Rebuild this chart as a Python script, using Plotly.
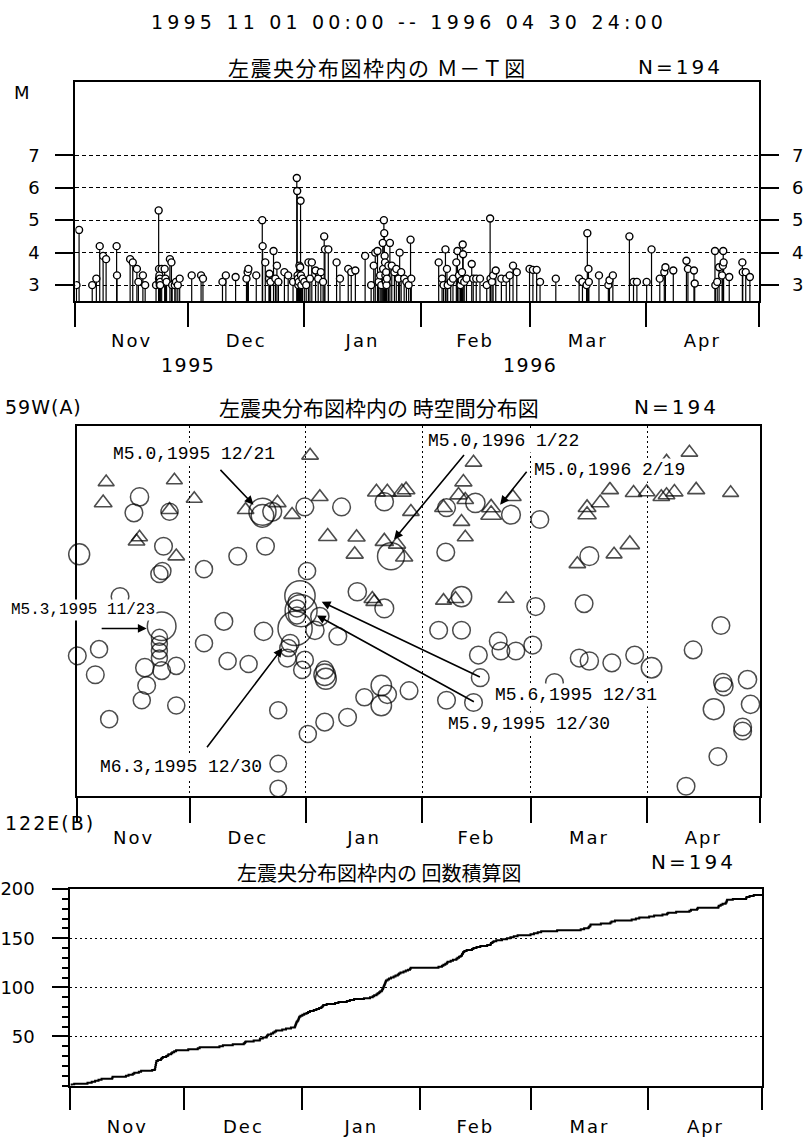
import plotly.graph_objects as go

W, H = 810, 1137


def fx(x):
    return x / W


def fy(y):
    return 1 - y / H


def ls(text, px):
    return f'<span style="letter-spacing:{px}px">{text}</span>'


FONT = "DejaVu Sans"
CJK = "Noto Sans CJK JP"
MONO = "Liberation Mono"

# ---------------- data ----------------
# time axis: days since 1995-11-01 00:00
month_start = [0, 30, 61, 92, 121, 152, 182]
month_mid = [15, 45.5, 76.5, 106.5, 136.5, 167]
month_names = ["Nov", "Dec", "Jan", "Feb", "Mar", "Apr"]
mag_ticks = [3, 4, 5, 6, 7]
count_ticks = [50, 100, 150, 200]

# events (time in days, magnitude)
ev_day = [
    # Nov 1995
    0.3, 1.0, 4.5, 5.6, 6.5, 7.4, 8.2, 11.0, 11.1, 14.6, 15.3, 16.4, 16.8, 18.0,
    18.6, 21.5, 22.2, 22.3, 22.3, 22.4, 22.4, 22.5, 22.5, 22.6, 22.6, 23.0, 23.8,
    24.0, 24.3, 25.2, 25.6, 25.8, 26.5, 26.8, 27.3, 27.8,
    # Dec 1995
    31.0, 33.5, 34.0, 39.2, 40.1, 42.7, 45.6, 45.9, 46.1, 48.2, 49.8, 49.9, 50.6,
    51.6, 51.7, 52.0, 52.8, 53.3, 53.7, 54.1, 55.7, 56.7, 58.0, 59.0, 59.1, 59.2,
    59.3, 59.4, 59.5, 59.7, 59.9, 60.0, 60.1, 60.2,
    # Jan 1996
    60.5, 61.0, 61.5, 62.1, 62.5, 63.0, 64.0, 64.7, 65.4, 66.0, 66.3, 66.5, 67.4,
    69.6, 70.5, 72.7, 73.5, 74.6, 77.2, 78.8, 79.5, 79.9, 80.5, 80.8, 81.2, 81.5,
    81.9, 82.0, 82.2, 82.3, 82.4, 82.5, 82.6, 82.7, 82.8, 82.9, 83.0, 83.4, 83.8,
    84.3, 85.0, 85.5, 86.1, 86.4, 86.8, 87.6, 88.2, 88.8, 89.3, 89.5,
    # Feb 1996
    96.8, 97.7, 98.1, 98.6, 99.0, 99.2, 100.0, 100.6, 101.5, 101.8, 102.2, 102.6,
    102.9, 103.0, 103.2, 103.3, 103.6, 104.2, 105.6, 106.0, 106.8, 107.8, 109.6,
    110.5, 110.6, 111.0, 111.3, 112.0, 113.5, 114.8, 115.7, 116.6, 117.6,
    # Mar 1996
    121.0, 121.9, 122.9, 123.8, 128.0, 134.2, 135.1, 136.2, 136.4, 136.7, 136.8,
    139.5, 142.0, 142.3, 143.2, 147.6, 148.7, 149.6,
    # Apr 1996
    152.2, 153.5, 155.7, 156.9, 157.2, 159.3, 162.8, 163.2, 164.8, 165.0, 170.4,
    170.5, 171.0, 171.5, 172.3, 172.5, 172.6, 172.7, 174.2, 177.7, 177.8, 178.6,
    179.7,
]
ev_mag = [
    # Nov 1995
    3.0, 4.7, 3.0, 3.2, 4.2, 3.9, 3.8, 4.2, 3.3, 3.8, 3.7, 3.5, 3.1, 3.3,
    3.0, 3.0, 5.3, 3.5, 3.2, 3.1, 3.3, 3.0, 3.2, 3.1, 3.0, 3.5, 3.5,
    3.2, 3.1, 3.8, 3.7, 3.0, 3.0, 3.1, 3.0, 3.2,
    # Dec 1995
    3.3, 3.3, 3.2, 3.1, 3.3, 3.25, 3.2, 3.4, 3.5, 3.3, 5.0, 4.2, 3.7,
    3.2, 3.35, 3.1, 4.05, 3.2, 3.6, 3.1, 3.4, 3.3, 3.1, 6.3, 5.9, 3.3,
    3.2, 3.0, 3.1, 3.6, 3.55, 5.6, 3.3, 3.0,
    # Jan 1996
    3.2, 3.1, 3.0, 3.7, 3.2, 3.7, 3.45, 3.2, 3.4, 3.1, 4.5, 4.1, 4.1,
    3.7, 3.2, 3.5, 3.4, 3.45, 3.9, 3.0, 3.6, 4.0, 4.05, 3.1, 3.3, 3.0,
    4.3, 3.5, 5.0, 4.6, 3.9, 3.7, 3.3, 3.1, 3.4, 3.0, 3.2, 3.6, 4.3,
    3.6, 3.4, 3.5, 3.2, 4.0, 3.4, 3.2, 3.1, 3.0, 4.4, 3.2,
    # Feb 1996
    3.7, 3.2, 3.0, 4.1, 3.5, 3.0, 3.1, 3.2, 3.7, 4.05, 3.3, 3.0,
    3.15, 3.4, 4.25, 3.95, 3.1, 3.2, 3.65, 3.2, 3.2, 3.2, 3.0,
    5.05, 3.2, 3.1, 3.3, 3.45, 3.2, 3.2, 3.3, 3.6, 3.4,
    # Mar 1996
    3.5, 3.47, 3.47, 3.1, 3.2, 3.2, 3.1, 3.0, 4.6, 3.5, 3.1,
    3.3, 3.0, 3.15, 3.3, 4.5, 3.1, 3.1,
    # Apr 1996
    3.1, 4.1, 3.2, 3.4, 3.55, 3.45, 3.75, 3.5, 3.45, 3.05, 4.05,
    3.0, 3.1, 3.55, 3.3, 3.6, 4.05, 3.7, 3.25, 3.7, 3.4, 3.4,
    3.25,
]

# space-time plot: time (days), distance along A-B section (% of length), magnitude
st_c_day = [
    16.6, 15.1, 24.6, 23.0, 0.5, 21.9, 22.7, 33.8, 42.8, 50.2, 49.4, 49.4, 52.0,
    60.7, 70.5, 61.3, 81.9, 83.7, 74.7, 81.9, 11.4, 22.5, 21.9, 21.9, 21.9, 21.9,
    39.1, 33.8, 49.7, 69.5, 59.4, 59.7, 58.1, 58.6, 58.6, 58.6, 64.7, 63.4, 56.8,
    56.0, 60.7, 45.7, 66.0, 56.3, 60.0, 66.0, 66.3, 61.5, 66.0, 72.1, 53.6, 53.6,
    53.6, 96.4, 5.8, 0.0, 4.8, 18.0, 22.5, 26.4, 18.5, 17.2, 26.4, 8.5, 40.1,
    76.6, 81.1, 82.7, 81.1, 88.5, 102.5, 107.0, 112.3, 113.0, 117.0, 121.5,
    107.5, 105.7, 98.5, 133.9, 136.6, 142.6, 148.7, 153.2, 127.3, 164.3, 171.7,
    172.2, 172.5, 178.8, 169.8, 179.6, 177.5, 177.5, 170.9, 162.4, 98.5, 106.2,
    115.7, 123.4, 98.3, 136.6, 102.5, 122.3, 135.2,
]
st_c_dist = [
    19.2, 23.5, 23.2, 32.5, 34.7, 40.0, 39.2, 38.7, 35.2, 32.5, 23.2, 24.3, 23.2,
    21.9, 21.9, 39.2, 20.5, 35.2, 44.8, 49.3, 46.1, 54.1, 57.1, 58.9, 60.8, 62.7,
    52.8, 58.7, 55.5, 56.8, 45.9, 49.9, 54.7, 47.5, 49.3, 51.2, 51.5, 55.2, 58.7,
    62.7, 63.2, 64.3, 65.9, 60.0, 65.9, 67.2, 68.3, 83.2, 80.0, 78.7, 76.8, 91.2,
    97.9, 55.2, 60.3, 62.1, 67.2, 65.3, 66.1, 64.8, 70.1, 74.1, 75.5, 79.2, 63.5,
    73.3, 70.1, 72.5, 75.5, 71.5, 55.2, 61.9, 58.1, 60.8, 60.8, 59.2,
    68.0, 74.7, 74.1, 62.7, 63.5, 64.0, 61.9, 65.3, 69.3, 60.5, 53.9,
    69.3, 70.4, 68.5, 76.5, 75.2, 81.3, 82.4, 89.3, 97.3, 22.1, 20.8,
    24.0, 25.3, 34.1, 35.2, 46.1, 48.8, 48.0,
]
st_c_mag = [
    3.4, 3.3, 3.2, 3.3, 3.9, 3.2, 3.2, 3.2, 3.3, 3.3, 5.0, 4.2, 3.5,
    3.3, 3.3, 3.2, 3.4, 5.0, 3.4, 3.5, 3.3, 5.3, 3.0, 3.0, 3.0, 3.0,
    3.3, 3.2, 3.4, 3.3, 5.6, 5.9, 6.3, 3.3, 3.2, 3.2, 3.4, 3.4, 3.3,
    3.3, 3.2, 3.2, 3.3, 3.2, 3.2, 4.0, 3.9, 3.2, 3.3, 3.3, 3.2, 3.1,
    3.1, 3.3, 3.2, 3.3, 3.3, 3.4, 3.3, 3.2, 3.3, 3.2, 3.2, 3.2, 3.2,
    3.2, 3.8, 3.4, 3.8, 3.3, 3.3, 3.3, 3.3, 3.3, 3.3, 3.3,
    3.3, 3.3, 3.3, 3.3, 3.4, 3.3, 3.3, 3.8, 3.3, 3.3, 3.3,
    3.4, 3.4, 3.4, 3.9, 3.4, 3.3, 3.3, 3.3, 3.3, 3.3, 3.6,
    3.5, 3.3, 3.3, 3.5, 3.8, 3.3, 3.3,
]
st_t_day = [
    62.1, 7.7, 25.9, 6.9, 31.2, 24.6, 15.8, 16.6, 26.4, 44.9, 53.4, 57.3, 64.7,
    66.8, 74.5, 74.0, 79.8, 82.7, 86.6, 87.7, 89.0, 81.9, 85.3, 87.2, 78.7, 79.2,
    105.7, 103.0, 101.7, 103.5, 97.7, 102.5, 103.5, 110.4, 110.4, 116.2, 136.0,
    136.0, 139.5, 142.1, 148.4, 151.9, 155.8, 157.2, 159.3, 165.1, 174.3, 163.3,
    157.2, 133.4, 143.2, 147.4, 97.7, 100.9, 114.4,
]
st_t_dist = [
    8.0, 15.2, 14.7, 20.8, 19.7, 22.7, 31.2, 30.1, 35.2, 22.7, 20.8, 24.0, 19.2,
    29.9, 30.1, 34.7, 17.9, 17.9, 17.9, 17.3, 23.2, 31.2, 32.0, 35.5, 46.7, 47.5,
    9.9, 15.2, 18.7, 20.0, 22.1, 25.9, 30.1, 22.1, 24.0, 19.2, 22.1,
    24.0, 20.8, 17.3, 18.1, 17.9, 19.2, 18.7, 17.9, 17.3, 18.1, 7.2,
    9.6, 37.3, 34.7, 32.0, 47.2, 46.7, 46.7,
]
st_t_mag = [
    3.2, 3.1, 3.1, 3.4, 3.1, 3.2, 3.2, 3.1, 3.2, 3.2, 3.3, 3.2, 3.2,
    3.5, 3.3, 3.3, 3.4, 3.4, 3.5, 3.4, 3.2, 3.5, 3.3, 3.3, 3.2, 3.2,
    3.2, 3.3, 3.3, 3.2, 3.4, 3.2, 3.1, 3.6, 3.9, 3.2, 3.4,
    3.5, 3.4, 3.3, 3.2, 3.2, 3.2, 3.2, 3.3, 3.3, 3.1, 3.2,
    3.1, 3.2, 3.1, 3.7, 3.1, 3.2, 3.1,
]

# labelled events: text, arrow head (day, dist), arrow tail (day, dist)
lab_text = ["M5.0,1995 12/21", "M5.0,1996 1/22", "M5.0,1996 2/19", "M5.3,1995 11/23",
            "M6.3,1995 12/30", "M5.6,1995 12/31", "M5.9,1995 12/30"]
lab_head = [(47.0, 21.3), (84.5, 30.7), (112.8, 21.3), (18.5, 54.7),
            (54.7, 60.0), (65.2, 47.5), (63.9, 51.2)]
lab_tail = [(37.8, 11.5), (103.5, 7.5), (120.2, 12.0), (6.1, 54.7),
            (34.3, 87.2), (107.8, 68.0), (106.2, 74.7)]
# label anchor: (day, dist, xanchor); None -> placed at the left page edge
lab_pos = [(31.2, 7.5, "center"), (113.6, 4.0, "center"), (142.1, 12.0, "center"),
           None, (27.7, 92.0, "center"), (110.9, 72.8, "left"),
           (98.3, 80.5, "left")]

N = len(ev_day)
M_BASE = 2.5
M_TOP = 9.25
T_END = month_start[-1]

fig = go.Figure()

# ---- panel 1: M-T ----
sx, sy = [], []
for d, m in zip(ev_day, ev_mag):
    sx += [d, d, None]
    sy += [M_BASE, m, None]
fig.add_trace(go.Scatter(x=sx, y=sy, mode="lines", line=dict(color="black", width=1.2),
                         xaxis="x", yaxis="y", hoverinfo="skip"))
fig.add_trace(go.Scatter(x=ev_day, y=ev_mag, mode="markers",
                         marker=dict(symbol="circle", size=7, color="white",
                                     line=dict(color="black", width=1.4)),
                         xaxis="x", yaxis="y4"))

# ---- panel 2: space-time ----
fig.add_trace(go.Scatter(x=st_c_day, y=st_c_dist, mode="markers", cliponaxis=False,
                         marker=dict(symbol="circle-open", color="black",
                                     size=[16 + (m - 3) * 5.5 for m in st_c_mag],
                                     line=dict(width=1.5)),
                         xaxis="x2", yaxis="y2"))
fig.add_trace(go.Scatter(x=st_t_day, y=st_t_dist, mode="markers", cliponaxis=False,
                         marker=dict(symbol="triangle-up-open", color="black",
                                     size=[13.5 + (m - 3) * 5 for m in st_t_mag],
                                     line=dict(width=1.6)),
                         xaxis="x2", yaxis="y2"))

# ---- panel 3: cumulative count ----
days_sorted = sorted(ev_day)
cx = [0] + days_sorted + [T_END]
cy = [0] + list(range(1, N + 1)) + [N]
fig.add_trace(go.Scatter(x=cx, y=cy, mode="lines", line=dict(color="black", width=2, shape="hv"),
                         xaxis="x3", yaxis="y3"))

month_text = [ls(m, 2) for m in month_names]
common_x = dict(range=[0, T_END], showline=True, linecolor="black", linewidth=2, mirror=True,
                tickmode="array", tickvals=month_mid, ticktext=month_text, ticks="",
                showgrid=False, zeroline=False,
                tickfont=dict(family=FONT, size=18, color="black"))
mag_axis = dict(range=[M_BASE, M_TOP], tickmode="array", tickvals=mag_ticks, ticks="outside",
                ticklen=18, tickwidth=2, tickcolor="black", showline=True, linecolor="black",
                linewidth=2, zeroline=False,
                tickfont=dict(family=FONT, size=18, color="black"))

fig.update_layout(
    width=W, height=H, margin=dict(l=0, r=0, t=0, b=0),
    paper_bgcolor="white", plot_bgcolor="white", showlegend=False,
    xaxis=dict(common_x, domain=[fx(68), fx(758)], anchor="y", ticklabelstandoff=22,
               minor=dict(tickmode="array", tickvals=month_start, ticks="outside",
                          ticklen=24, tickwidth=2, tickcolor="black", showgrid=False)),
    yaxis=dict(mag_axis, domain=[fy(294), fy(72)], anchor="x", side="left",
               showgrid=True, gridcolor="black", gridwidth=1, griddash="4px,3px",
               ticklabelstandoff=12),
    yaxis4=dict(mag_axis, overlaying="y", side="right", anchor="x",
                showgrid=False, ticklabelstandoff=10),
    xaxis2=dict(common_x, domain=[fx(70), fx(759)], anchor="y2", ticklabelstandoff=24,
                minor=dict(tickmode="array", tickvals=month_start, ticks="outside",
                           ticklen=25, tickwidth=2, tickcolor="black", showgrid=True,
                           gridcolor="black", gridwidth=1, griddash="2px,3px")),
    yaxis2=dict(domain=[fy(795), fy(420)], range=[100, 0], anchor="x2",
                showticklabels=False, ticks="", showgrid=False, zeroline=False,
                showline=True, linecolor="black", linewidth=2, mirror=True),
    xaxis3=dict(common_x, domain=[fx(63), fx(762)], anchor="y3", ticklabelstandoff=24,
                minor=dict(tickmode="array", tickvals=month_start, ticks="outside",
                           ticklen=22, tickwidth=2, tickcolor="black", showgrid=False)),
    yaxis3=dict(domain=[fy(1088), fy(889)], range=[0, 200], anchor="x3",
                tickmode="array", tickvals=count_ticks, ticks="outside", ticklen=16,
                tickwidth=2, tickcolor="black", showline=True, linecolor="black",
                linewidth=2, mirror=True, showgrid=True, gridcolor="black", gridwidth=1,
                griddash="2px,3px", zeroline=False, ticklabelstandoff=14,
                tickfont=dict(family=FONT, size=18, color="black"),
                minor=dict(dtick=10, ticks="outside", ticklen=6, tickwidth=1.5,
                           tickcolor="black", showgrid=False)),
)

ann = []


def txt(x, y, text, size=18, family=FONT, xanchor="center", **kw):
    ann.append(dict(x=x, y=y, xref="paper", yref="paper", text=text, showarrow=False,
                    xanchor=xanchor, yanchor="middle",
                    font=dict(family=family, size=size, color="black"), **kw))


txt(fx(405), fy(11), ls("1995 11 01 00:00 -- 1996 04 30 24:00", 4.2), size=19)
txt(fx(373), fy(57), ls("左震央分布図枠内の Ｍ－Ｔ図", 1.5), size=21, family=CJK)
txt(fx(679), fy(57), ls(f"N={N}", 3), size=20)
txt(fx(14), fy(83), "M", size=18)
txt(fx(182), fy(358), ls("1995", 1.5), size=19)
txt(fx(527), fy(358), ls("1996", 1.5), size=19)

txt(fx(375), fy(401), "左震央分布図枠内の 時空間分布図", size=21, family=CJK)
txt(fx(675), fy(401), ls(f"N={N}", 3), size=20)
txt(fx(77), fy(401), ls("59W(A)", 1), size=19, xanchor="right")
txt(fx(90), fy(822), ls("122E(B)", 2), size=19, xanchor="right")

txt(fx(375), fy(872), "左震央分布図枠内の 回数積算図", size=20, family=CJK)
txt(fx(692), fy(862), ls(f"N={N}", 3), size=20)

for t, (hx, hy), (tx, ty) in zip(lab_text, lab_head, lab_tail):
    ann.append(dict(x=hx, y=hy, xref="x2", yref="y2", ax=tx, ay=ty, axref="x2", ayref="y2",
                    text="", showarrow=True, arrowhead=2, arrowsize=1.1, arrowwidth=1.6,
                    arrowcolor="black", standoff=0, startstandoff=0))
for t, pos in zip(lab_text, lab_pos):
    if pos is None:
        txt(fx(1), fy(606), t, size=16, family=MONO, xanchor="left",
            bgcolor="white", borderpad=1)
        continue
    px, py, anc = pos
    ann.append(dict(x=px, y=py, xref="x2", yref="y2", text=t, showarrow=False,
                    xanchor=anc, yanchor="middle", bgcolor="white", borderpad=1,
                    font=dict(family=MONO, size=18, color="black")))

fig.update_layout(annotations=ann)
fig.write_html("out.html", config={"displayModeBar": False},
               post_script="document.body.style.margin='0';document.body.style.padding='0';"
                           "document.documentElement.style.overflow='hidden';")
